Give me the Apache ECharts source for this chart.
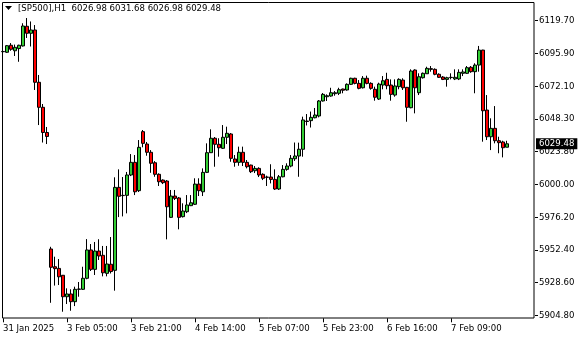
<!DOCTYPE html>
<html>
<head>
<meta charset="utf-8">
<script src="https://cdn.jsdelivr.net/npm/echarts@6/dist/echarts.min.js"></script>
<style>
html,body{margin:0;padding:0;background:#fff;}
#chart{width:580px;height:340px;}
</style>
</head>
<body>
<div id="chart"></div>
<script>
// ---- data (H1 bars, SP500) ----
const symbolName = '[SP500],H1';
const firstBarTime = Date.UTC(2025, 0, 31, 12); // 31 Jan 2025 12:00
const totalSlots = 134; // bars + empty chart shift on the right
const open = [
6096.4,6096.0,6101.1,6097.1,6098.7,6100.6,6114.9,6109.8,6112.2,6074.2,6056.0,6037.7,
5953.0,5940.1,5938.9,5933.9,5918.3,5920.3,5914.7,5923.7,5923.7,5931.7,5952.3,5938.2,5951.5,5948.4,5935.3,5941.9,
5937.5,5997.8,5992.0,5992.0,6006.8,6016.0,5995.4,6038.3,6029.3,6023.3,6015.7,6007.3,6003.1,6002.4,5976.0,5991.5,
5990.1,5976.5,5980.1,5984.5,5985.5,6000.2,5994.6,6008.7,6023.0,6033.5,6029.1,6026.2,6034.2,6036.6,6018.4,6016.0,
6023.3,6016.0,6014.0,6009.9,6011.6,6007.3,6005.3,6005.3,6003.6,5996.6,6005.5,6010.9,6013.3,6018.6,6020.6,6025.5,
6046.0,6046.3,6048.4,6049.7,6060.6,6063.7,6064.2,6065.9,6066.2,6069.3,6068.6,6072.7,6077.1,6073.4,6070.2,6077.1,
6073.4,6069.1,6062.0,6072.2,6076.3,6072.2,6064.9,6071.0,6075.8,6070.5,6055.7,6083.1,6066.6,6077.5,6080.4,6084.1,
6083.6,6080.0,6078.0,6076.3,6077.8,6076.6,6076.6,6080.7,6080.7,6085.1,6081.9,6086.7,6097.6,6054.0,6034.6,6040.7,
6031.7,6030.8,6026.98
];
const close = [
6096.6,6100.8,6098.2,6099.6,6101.1,6115.1,6109.8,6112.2,6074.2,6056.0,6037.7,6034.8,
5939.7,5938.7,5932.8,5918.3,5920.3,5914.7,5923.7,5923.9,5931.7,5952.3,5938.2,5951.5,5947.9,5935.7,5942.1,5936.6,
5997.8,5991.3,5991.8,6006.8,6016.0,5994.6,6026.9,6029.8,6023.3,6015.3,6007.3,6001.9,6001.2,5983.7,5991.5,5989.8,
5976.0,5980.6,5985.0,5986.6,6000.2,5995.4,6008.7,6023.0,6033.5,6029.1,6026.6,6034.2,6037.1,6018.9,6016.0,6023.3,
6016.0,6012.8,6009.2,6011.6,6006.8,6004.4,6005.1,6003.6,5996.6,6005.5,6010.9,6013.3,6018.9,6020.6,6025.5,6046.8,
6045.7,6048.7,6050.4,6060.6,6065.4,6064.4,6066.6,6066.6,6068.8,6068.4,6072.7,6077.1,6073.4,6069.8,6077.1,6073.4,
6069.8,6063.3,6072.9,6075.3,6071.7,6065.4,6071.5,6076.3,6070.2,6056.0,6082.4,6070.2,6078.2,6080.7,6084.3,6083.6,
6080.0,6077.8,6076.3,6077.5,6077.6,6077.8,6081.4,6081.7,6084.8,6081.9,6086.7,6097.6,6053.5,6034.6,6040.7,6031.7,
6030.3,6026.6,6029.48
];
const low = [
6095.5,6095.5,6097.1,6093.3,6089.1,6100.2,6106.4,6100.2,6068.6,6043.1,6030.4,6029.3,
5913.9,5926.4,5926.8,5907.4,5913.0,5908.1,5911.5,5918.3,5923.2,5931.0,5937.0,5934.1,5945.0,5933.1,5933.1,5935.2,
5922.7,5976.2,5976.7,5978.9,6006.0,5992.2,5994.4,6026.9,6020.8,6008.4,6005.5,5998.8,6000.2,5960.0,5975.5,5988.6,
5967.3,5975.9,5979.1,5984.2,5985.0,5991.5,5991.5,6008.2,6022.8,6012.8,6020.1,6025.7,6029.3,6016.4,6012.8,6013.5,
6013.3,6011.6,6008.2,6008.2,6005.3,6003.1,5998.8,6000.7,5995.9,5995.9,6005.1,6009.9,6012.4,6017.0,6005.5,6020.1,
6042.8,6041.3,6048.0,6048.7,6060.2,6060.6,6063.7,6064.4,6064.9,6066.2,6068.1,6072.2,6072.7,6069.1,6069.7,6072.7,
6068.8,6060.8,6061.3,6069.1,6069.1,6060.8,6063.7,6069.1,6068.6,6045.5,6055.3,6051.6,6064.9,6076.9,6080.2,6081.9,
6079.3,6077.3,6075.8,6071.0,6076.3,6075.8,6075.8,6078.7,6080.2,6081.1,6066.2,6081.9,6031.0,6032.2,6024.9,6029.8,
6022.6,6019.6,6026.98
];
const high = [
6097.6,6101.3,6102.7,6101.6,6101.5,6117.1,6120.9,6118.4,6115.8,6079.5,6058.4,6041.7,
5954.6,5947.4,5945.7,5934.1,5924.4,5923.7,5925.6,5929.0,5940.1,5960.2,5956.6,5958.1,5960.1,5955.2,5955.2,5961.7,
6005.1,6010.9,6005.3,6009.0,6022.0,6021.3,6032.2,6039.5,6030.8,6024.9,6016.9,6008.0,6003.6,6003.1,5995.9,5995.9,
5990.8,5986.2,5992.2,5992.2,6004.4,6004.4,6011.6,6029.8,6040.0,6034.4,6033.5,6043.1,6041.9,6037.3,6021.3,6027.4,
6027.4,6017.7,6014.3,6013.3,6012.4,6008.0,6006.3,6014.6,6010.9,6006.8,6014.0,6015.3,6021.3,6030.4,6030.3,6049.2,
6051.1,6052.9,6055.5,6061.3,6066.4,6065.4,6070.2,6067.8,6070.2,6069.5,6073.4,6077.5,6077.5,6075.8,6078.7,6079.0,
6074.2,6071.0,6073.9,6078.7,6081.1,6076.3,6076.3,6077.1,6077.1,6070.8,6083.6,6083.6,6080.7,6081.3,6085.5,6086.0,
6084.3,6080.7,6078.7,6078.2,6080.7,6083.6,6083.6,6083.6,6086.0,6086.0,6088.0,6100.6,6097.8,6064.9,6048.0,6056.9,
6034.6,6031.7,6031.68
];
const priceTickLabels = ['5904.80','5928.60','5952.40','5976.20','6000.00','6023.80','6048.30','6072.10','6095.90','6119.70'];
const priceMin = 5904.8, priceMax = 6132.55, priceStep = 23.8;
const timeLabelEvery = 16;

// ---- build categories (hourly, skipping 00:00 and weekends) ----
const MONTHS = ['Jan','Feb','Mar','Apr','May','Jun','Jul','Aug','Sep','Oct','Nov','Dec'];
const times = [];
let t = firstBarTime;
while (times.length < totalSlots) {
  const d = new Date(t);
  const day = d.getUTCDay(), hr = d.getUTCHours();
  if (day !== 0 && day !== 6 && hr !== 0) times.push(t);
  t += 3600 * 1000;
}
const categories = times.map(String);
const lastIdx = open.length - 1;
function fmtTime(ms, idx) {
  const d = new Date(ms);
  if (idx === 0) return d.getUTCDate() + ' ' + MONTHS[d.getUTCMonth()] + ' ' + d.getUTCFullYear();
  const hh = String(d.getUTCHours()).padStart(2, '0');
  return d.getUTCDate() + ' ' + MONTHS[d.getUTCMonth()] + ' ' + hh + ':00';
}
const candles = open.map((o, i) => [o, close[i], low[i], high[i]]);
const FONT = 'DejaVu Sans Condensed, DejaVu Sans, sans-serif';
const showIdx = (i) => i % timeLabelEvery === 0 && i <= lastIdx;

const chart = echarts.init(document.getElementById('chart'), null, {renderer: 'canvas'});
chart.setOption({
  animation: false,
  backgroundColor: '#ffffff',
  textStyle: {fontFamily: FONT},
  title: {
    text: symbolName + '  ' + [open[lastIdx], high[lastIdx], low[lastIdx], close[lastIdx]].map(v => v.toFixed(2)).join(' '),
    left: 18, top: 4, padding: 0,
    textStyle: {fontFamily: FONT, fontSize: 9.5, fontWeight: 'normal', color: '#000'}
  },
  grid: {left: 3, right: 45, top: 2, bottom: 24.7, containLabel: false},
  xAxis: {
    type: 'category',
    data: categories,
    boundaryGap: false,
    offset: 3,
    axisLine: {show: false},
    axisTick: {show: true, length: 4, interval: (i) => showIdx(i), lineStyle: {color: '#000'}},
    axisLabel: {
      interval: (i) => showIdx(i),
      formatter: (v, i) => fmtTime(Number(v), i),
      align: 'left', margin: 5, color: '#000', fontSize: 9.5, fontFamily: FONT
    },
    splitLine: {show: false}
  },
  yAxis: {
    type: 'value',
    position: 'right',
    min: priceMin, max: priceMax, interval: priceStep,
    scale: true,
    axisLine: {show: false},
    axisTick: {show: true, length: 3, lineStyle: {color: '#000'}},
    axisLabel: {
      showMaxLabel: false,
      margin: 4, color: '#000', fontSize: 9.5, fontFamily: FONT,
      formatter: (v) => {
        const k = Math.round((v - priceMin) / priceStep);
        return (Math.abs(v - (priceMin + k * priceStep)) < 0.01 && priceTickLabels[k]) ? priceTickLabels[k] : '';
      }
    },
    splitLine: {show: false}
  },
  graphic: [
    {type: 'rect', shape: {x: 2.5, y: 2.5, width: 531.5, height: 315.5}, style: {fill: null, stroke: '#000', lineWidth: 1}, z: 100, silent: true},
    {type: 'polygon', shape: {points: [[5, 6], [12, 6], [8.5, 10]]}, style: {fill: '#000'}, z: 100, silent: true}
  ],
  series: [{
    type: 'candlestick',
    data: candles,
    barWidth: 3,
    clip: true,
    itemStyle: {color: '#32cd32', color0: '#ff0000', borderColor: '#000', borderColor0: '#000', borderWidth: 1},
    markLine: {
      silent: true, symbol: ['none', 'none'], animation: false,
      lineStyle: {color: 'rgba(0,0,0,0)', width: 0, type: 'solid'},
      label: {
        show: true,
        position: 'end', distance: 1,
        formatter: (p) => Number(p.value).toFixed(2),
        backgroundColor: '#000', color: '#fff', padding: [1, 3, 0, 3],
        fontFamily: FONT, fontSize: 9.5, opacity: 1
      },
      data: [{yAxis: close[lastIdx]}]
    }
  }]
});
</script>
</body>
</html>
